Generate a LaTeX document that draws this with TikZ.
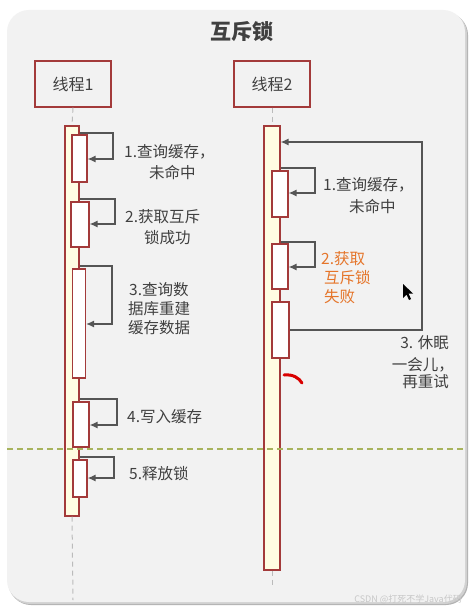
\documentclass[tikz,border=0pt]{standalone}
\usepackage{fontspec}
\setmainfont{Noto Sans CJK SC}
\usetikzlibrary{arrows.meta}
\definecolor{panel}{HTML}{F2F2F2}
\definecolor{boxred}{HTML}{A33A3A}
\definecolor{barfill}{HTML}{FFFDE2}
\definecolor{txt}{HTML}{404040}
\definecolor{msgc}{HTML}{555555}
\definecolor{orangetxt}{HTML}{E5752A}
\definecolor{olive}{HTML}{A7B35C}
\definecolor{lifec}{HTML}{BBBBBB}
\tikzset{
  thread/.style={draw=boxred, line width=1.4pt, fill=panel, minimum width=76pt, minimum height=46pt, inner sep=0pt, text=txt, font=\fontsize{16}{19}\selectfont},
  bar/.style={draw=boxred, line width=1.2pt, fill=barfill, inner sep=0pt},
  act/.style={draw=boxred, line width=1.2pt, fill=white, inner sep=0pt},
  msg/.style={draw=msgc, line width=1.3pt, -{Latex[length=8pt,width=7pt]}},
  life/.style={draw=lifec, line width=1pt, dash pattern=on 5pt off 4pt},
  lbl/.style={anchor=west, inner sep=0pt, text=txt, font=\fontsize{15.5}{19}\selectfont},
  olbl/.style={lbl, text=orangetxt},
}
\begin{document}
\begin{tikzpicture}[x=1pt,y=-1pt]
\useasboundingbox (0,0) rectangle (469,612);
\fill[white] (0,0) rectangle (469,612);
% panel with shadow
\fill[black!30, rounded corners=22pt] (9,13) rectangle (468,605);
\fill[black!18, rounded corners=22pt] (8,12) rectangle (467,604);
\fill[panel, rounded corners=22pt] (7,10) rectangle (465,602);
% title
\node[text=txt, font=\fontsize{21}{24}\selectfont\bfseries] (title) at (242,32) {互斥锁};
% threads
\node[thread] (t1) at (73,84) {线程1};
\node[thread] (t2) at (272,84) {线程2};
% bars
\node[bar, minimum width=14pt, minimum height=390pt] (bar1) at (72,321) {};
\node[bar, minimum width=16pt, minimum height=444pt] (bar2) at (272,348) {};
\coordinate (end1) at (73,600);
\coordinate (end2) at (272,586);
\draw[life] (t1.south) -- (bar1.north);
\draw[life] (bar1.south) -- (end1);
\draw[life] (t2.south) -- (bar2.north);
\draw[life] (bar2.south) -- (end2);
% thread 1 activations
\node[act, minimum width=15pt, minimum height=47pt] (a1) at (79.5,158.5) {};
\node[act, minimum width=18pt, minimum height=45pt] (a2) at (80,224.5) {};
\node[act, minimum width=13pt, minimum height=109pt] (a3) at (79,323.5) {};
\node[act, minimum width=16pt, minimum height=45pt] (a4) at (81,424.5) {};
\node[act, minimum width=14pt, minimum height=37pt] (a5) at (80,478.5) {};
\draw[msg] (bar1.east |- 0,133) -| (113,159) -- (a1.east |- 0,159);
\draw[msg] (bar1.east |- 0,199) -| (115,224) -- (a2.east |- 0,224);
\draw[msg] (bar1.east |- 0,266) -| (112,324) -- (a3.east |- 0,324);
\draw[msg] (bar1.east |- 0,399) -| (117,425) -- (a4.east |- 0,425);
\draw[msg] (bar1.east |- 0,457) -| (114,478) -- (a5.east |- 0,478);
% thread 2 activations
\node[act, minimum width=16pt, minimum height=46pt] (b1) at (280,194) {};
\node[act, minimum width=16pt, minimum height=45pt] (b2) at (280,266.5) {};
\node[act, minimum width=17pt, minimum height=56pt] (b3) at (280.5,330) {};
\draw[msg] (bar2.east |- 0,168) -| (315,193) -- (b1.east |- 0,193);
\draw[msg] (bar2.east |- 0,242) -| (315,267) -- (b2.east |- 0,267);
\draw[msg] (b3.east |- 0,330) -| (422,142) -- (bar2.east |- 0,142);
% separator (drawn over the bars)
\coordinate (sepL) at (7,449);
\coordinate (sepR) at (465,449);
\draw[olive, line width=1.1pt, dash pattern=on 6pt off 4pt] (sepL) -- (sepR);
% labels thread 1
\node[lbl] (l1a) at (124,152) {1.查询缓存，};
\node[lbl] (l1b) at (149,173) {未命中};
\node[lbl] (l2a) at (125,217) {2.获取互斥};
\node[lbl] (l2b) at (144,238) {锁成功};
\node[lbl] (l3a) at (129,290) {3.查询数};
\node[lbl] (l3b) at (128,309) {据库重建};
\node[lbl] (l3c) at (128,328) {缓存数据};
\node[lbl] (l4) at (127,417) {4.写入缓存};
\node[lbl] (l5) at (129,474) {5.释放锁};
% labels thread 2
\node[lbl] (m1a) at (323,185) {1.查询缓存，};
\node[lbl] (m1b) at (349,207) {未命中};
\node[olbl] (m2a) at (321,259) {2.获取};
\node[olbl] (m2b) at (324,278) {互斥锁};
\node[olbl] (m2c) at (324,297) {失败};
\node[lbl, anchor=east] (m3a) at (449,343) {3. 休眠};
\node[lbl, anchor=east] (m3b) at (454,365) {一会儿，};
\node[lbl, anchor=east] (m3c) at (449,382) {再重试};
% red mark and cursor
\draw[red!85!black, line width=3pt, line cap=round] (284,375) .. controls (293,374) and (299,378) .. (302,383);
\fill[black] (403,284) -- (403,298) -- (406.5,294.5) -- (409,300) -- (411,299) -- (408.5,293.5) -- (413,293.5) -- cycle;
% watermark
\node[anchor=east, inner sep=0pt, text=black!22, font=\fontsize{9}{10}\selectfont] (wm) at (462,599) {CSDN @打死不学Java代码};
\end{tikzpicture}
\end{document}
